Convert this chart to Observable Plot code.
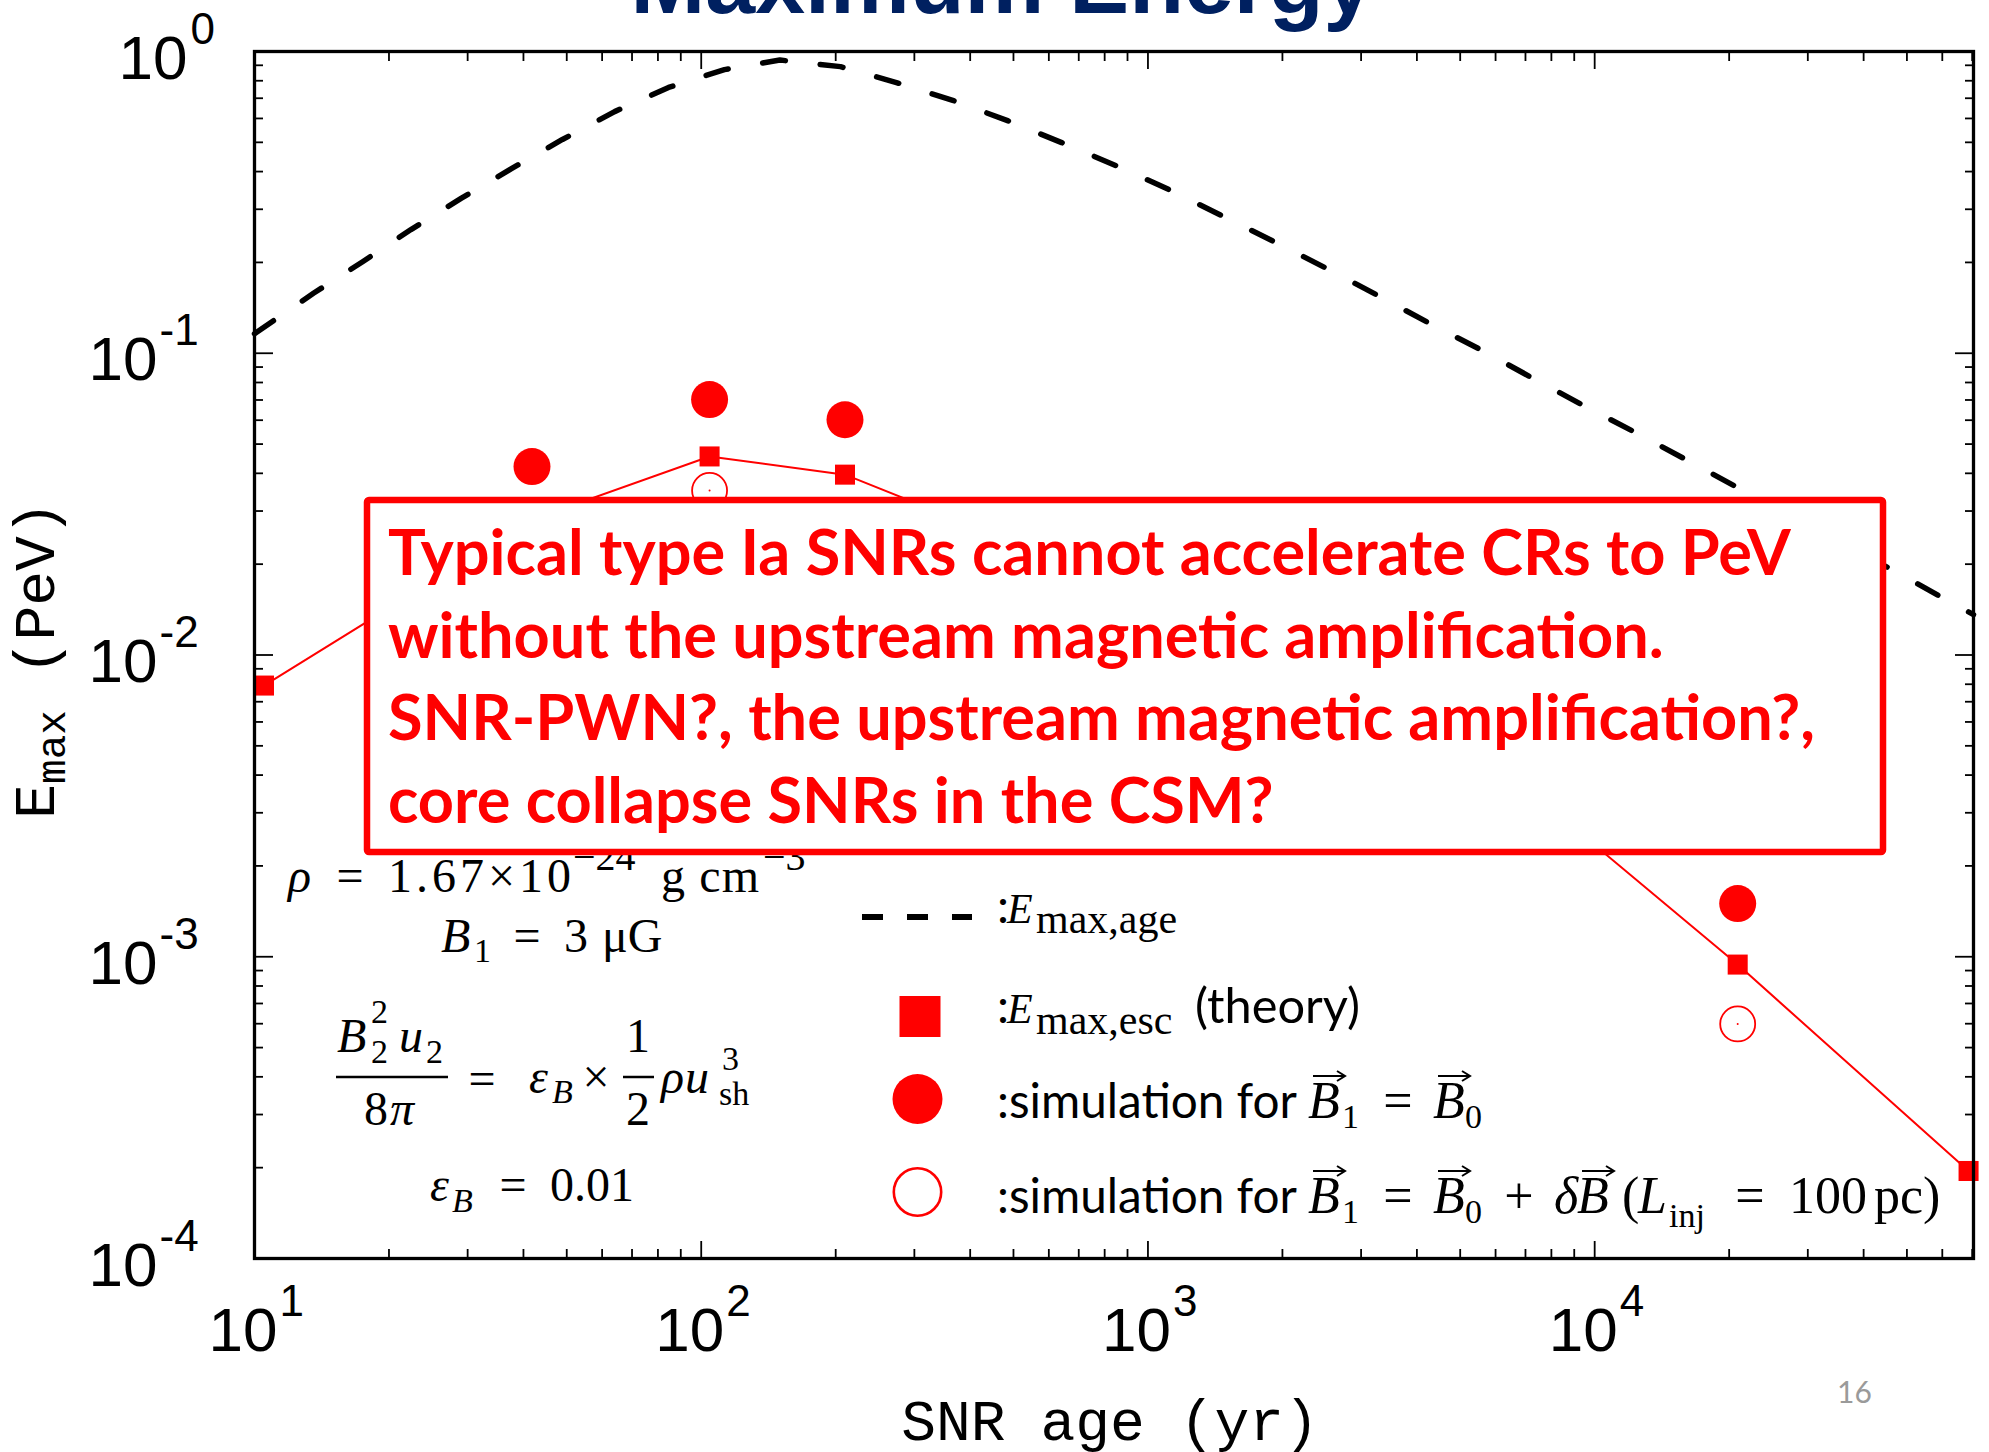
<!DOCTYPE html>
<html>
<head>
<meta charset="utf-8">
<script src="https://cdn.jsdelivr.net/npm/d3@7"></script>
<script src="https://cdn.jsdelivr.net/npm/@observablehq/plot@0.6"></script>
<style>
  html, body { margin: 0; padding: 0; background: #fff; overflow: hidden; }
</style>
</head>
<body>
<script>
// Maximum energy limited by SNR age (dashed curve): age [yr] and energy [PeV]
const ageYr  = [10, 13.55, 17.46, 22.4, 29.0, 37.6, 48.9, 64.0, 84.5, 112.7, 150, 205, 273.5, 365.6, 485, 641, 847, 1112, 1462, 1919, 2512, 3281, 4295, 5610, 7295, 9550, 12470, 16290, 21330, 47640, 61660, 70470];
const ageE   = [0.116, 0.158, 0.201, 0.257, 0.326, 0.409, 0.511, 0.632, 0.760, 0.871, 0.937, 0.891, 0.789, 0.689, 0.590, 0.499, 0.419, 0.349, 0.286, 0.234, 0.191, 0.155, 0.125, 0.102, 0.0824, 0.0665, 0.0542, 0.0438, 0.0353, 0.01875, 0.01514, 0.01361];

// Escape-limited maximum energy (theory, squares joined by a line)
const escYr  = [10.5, 41.8, 104.4, 209.8, 4355, 20900, 68700];
const escE   = [0.00792, 0.0281, 0.0455, 0.0396, 0.00656, 0.000942, 0.000195];

// Simulation, B1 = B0 (filled circles)
const simYr  = [41.8, 104.4, 209.8, 20900];
const simE   = [0.0421, 0.0702, 0.0602, 0.00150];

// Simulation, B1 = B0 + dB, L_inj = 100 pc (open circles)
const turbYr = [104.4, 20900];
const turbE  = [0.0351, 0.000599];

// Axis ticks
const xMajor = [10, 100, 1000, 10000];
const xExp   = ["1", "2", "3", "4"];
const xMinor = [20, 30, 40, 50, 60, 70, 80, 90, 200, 300, 400, 500, 600, 700, 800, 900,
                2000, 3000, 4000, 5000, 6000, 7000, 8000, 9000, 20000, 30000, 40000, 50000, 60000, 70000];
const yMajor = [1, 0.1, 0.01, 0.001, 0.0001];
const yExp   = ["0", "-1", "-2", "-3", "-4"];
const yMinor = [2e-4, 3e-4, 4e-4, 5e-4, 6e-4, 7e-4, 8e-4, 9e-4,
                2e-3, 3e-3, 4e-3, 5e-3, 6e-3, 7e-3, 8e-3, 9e-3,
                0.02, 0.03, 0.04, 0.05, 0.06, 0.07, 0.08, 0.09,
                0.2, 0.3, 0.4, 0.5, 0.6, 0.7, 0.8, 0.9];

const ageCurve = ageYr.map((t, i) => ({t, e: ageE[i]}));
const escPts   = escYr.map((t, i) => ({t, e: escE[i]}));
const simPts   = simYr.map((t, i) => ({t, e: simE[i]}));
const turbPts  = turbYr.map((t, i) => ({t, e: turbE[i]}));

const RED = "#ff0000";
const HELV = "'Liberation Sans', Arial, Helvetica, sans-serif";
const SERIF = "'Liberation Serif', 'Times New Roman', serif";
const SANS = "Lato, 'Open Sans', sans-serif";
const MONO = "'Liberation Mono', 'Courier New', monospace";

const tickStyle = {fill: "none", label: null, stroke: "black", strokeWidth: 1.8};

const yZero = yMajor.filter(d => d === 1);
const yNeg = yMajor.filter(d => d !== 1);
const expOf = d => yExp[yMajor.indexOf(d)];

const svg = Plot.plot({
  width: 1989,
  height: 1452,
  marginLeft: 254,
  marginRight: 16,
  marginTop: 51,
  marginBottom: 194,
  style: {background: "white"},
  x: {type: "log", domain: [10, 70470]},
  y: {type: "log", domain: [1e-4, 1]},
  marks: [
    // inward ticks on all four sides
    Plot.axisX(xMajor, {anchor: "bottom", tickSize: -17, ...tickStyle}),
    Plot.axisX(xMinor, {anchor: "bottom", tickSize: -9, ...tickStyle}),
    Plot.axisX(xMajor, {anchor: "top", tickSize: -17, ...tickStyle}),
    Plot.axisX(xMinor, {anchor: "top", tickSize: -9, ...tickStyle}),
    Plot.axisY(yMajor, {anchor: "left", tickSize: -19, ...tickStyle}),
    Plot.axisY(yMinor, {anchor: "left", tickSize: -9, ...tickStyle}),
    Plot.axisY(yMajor, {anchor: "right", tickSize: -19, ...tickStyle}),
    Plot.axisY(yMinor, {anchor: "right", tickSize: -9, ...tickStyle}),

    // x tick labels 10^n
    Plot.text(xMajor, {x: d => d, frameAnchor: "bottom", text: () => "10", textAnchor: "end",
      lineAnchor: "bottom", dx: 23, dy: 92, fontSize: 62, fontFamily: HELV, fill: "black"}),
    Plot.text(xMajor, {x: d => d, frameAnchor: "bottom", text: (d, i) => xExp[i], textAnchor: "start",
      lineAnchor: "bottom", dx: 25, dy: 57, fontSize: 44, fontFamily: HELV, fill: "black"}),

    // y tick labels 10^n
    Plot.text(yZero, {y: d => d, frameAnchor: "left", text: () => "10", textAnchor: "end",
      lineAnchor: "bottom", dx: -67, dy: 27, fontSize: 62, fontFamily: HELV, fill: "black"}),
    Plot.text(yZero, {y: d => d, frameAnchor: "left", text: expOf, textAnchor: "start",
      lineAnchor: "bottom", dx: -64, dy: -8, fontSize: 44, fontFamily: HELV, fill: "black"}),
    Plot.text(yNeg, {y: d => d, frameAnchor: "left", text: () => "10", textAnchor: "end",
      lineAnchor: "bottom", dx: -97, dy: 27, fontSize: 62, fontFamily: HELV, fill: "black"}),
    Plot.text(yNeg, {y: d => d, frameAnchor: "left", text: expOf, textAnchor: "start",
      lineAnchor: "bottom", dx: -95, dy: -8, fontSize: 44, fontFamily: HELV, fill: "black"}),

    // E_max,age
    Plot.line(ageCurve, {x: "t", y: "e", stroke: "black", strokeWidth: 5.5, strokeDasharray: "23,35"}),
    // E_max,esc theory
    Plot.line(escPts, {x: "t", y: "e", stroke: RED, strokeWidth: 2}),
    Plot.dot(escPts, {x: "t", y: "e", symbol: "square", r: 11.3, fill: RED, stroke: "none"}),
    // simulations
    Plot.dot(simPts, {x: "t", y: "e", r: 18.5, fill: RED, stroke: "none"}),
    Plot.dot(turbPts, {x: "t", y: "e", r: 17.5, fill: "none", stroke: RED, strokeWidth: 1.8}),
    Plot.dot(turbPts, {x: "t", y: "e", r: 1, fill: RED, stroke: "none"}),

    Plot.frame({stroke: "black", strokeWidth: 3.3})
  ]
});
document.body.append(svg);

const notes = d3.select(svg).append("g").attr("class", "notes");

// Places a text run; len stretches letter spacing, fit rescales the font to a width
function put(g, s, x, y, o = {}) {
  const t = g.append("text")
    .attr("x", x).attr("y", y)
    .attr("text-anchor", o.anchor || "start")
    .attr("font-family", o.font || SERIF)
    .attr("font-size", o.size || 48)
    .attr("font-style", o.italic ? "italic" : "normal")
    .attr("font-weight", o.bold ? "bold" : "normal")
    .attr("fill", o.fill || "black")
    .style("white-space", "pre")
    .text(s);
  if (o.fit) {
    const w = t.node().getComputedTextLength();
    t.attr("font-size", (o.size || 48) * o.fit / w);
  }
  if (o.len) t.attr("textLength", o.len).attr("lengthAdjust", "spacing");
  return t;
}
function vecArrow(g, x1, x2, y) {
  g.append("path")
    .attr("d", `M${x1},${y}L${x2},${y}M${x2 - 8},${y - 5}L${x2},${y}L${x2 - 8},${y + 5}`)
    .attr("fill", "none").attr("stroke", "black").attr("stroke-width", 2);
}
function bar(g, x1, x2, y) {
  g.append("line").attr("x1", x1).attr("x2", x2).attr("y1", y).attr("y2", y)
    .attr("stroke", "black").attr("stroke-width", 2.5);
}

// Title (runs off the top edge)
put(notes, "Maximum Energy", 1002, 13, {anchor: "middle", font: HELV, bold: true, size: 90, fit: 743, fill: "#002060"});

// Parameters
put(notes, "ρ", 288, 892, {italic: true});
put(notes, "=", 350, 892, {anchor: "middle"});
put(notes, "1.67×10", 388, 892, {len: 183});
put(notes, "−24", 573, 870, {size: 40});
put(notes, "g cm", 661, 892, {len: 98});
put(notes, "−3", 763, 870, {size: 40});

put(notes, "B", 441, 952, {italic: true});
put(notes, "1", 474, 962, {size: 34});
put(notes, "=", 527, 952, {anchor: "middle"});
put(notes, "3", 564, 952);
put(notes, "μG", 602, 952);

put(notes, "B", 337, 1052, {italic: true});
put(notes, "2", 371, 1023, {size: 34});
put(notes, "2", 371, 1063, {size: 34});
put(notes, "u", 399, 1052, {italic: true});
put(notes, "2", 426, 1063, {size: 34});
bar(notes, 336, 448, 1077);
put(notes, "8", 364, 1125);
put(notes, "π", 390, 1125, {italic: true});
put(notes, "=", 482, 1095, {anchor: "middle"});
put(notes, "ε", 529, 1093, {italic: true});
put(notes, "B", 552, 1103, {italic: true, size: 34});
put(notes, "×", 596, 1093, {anchor: "middle"});
put(notes, "1", 638, 1052, {anchor: "middle"});
bar(notes, 623, 654, 1077);
put(notes, "2", 638, 1125, {anchor: "middle"});
put(notes, "ρ", 661, 1093, {italic: true});
put(notes, "u", 685, 1093, {italic: true});
put(notes, "3", 722, 1070, {size: 34});
put(notes, "sh", 719, 1105, {size: 34});

put(notes, "ε", 430, 1201, {italic: true});
put(notes, "B", 452, 1212, {italic: true, size: 34});
put(notes, "=", 513, 1201, {anchor: "middle"});
put(notes, "0.01", 550, 1201);

// Legend
notes.append("line").attr("x1", 862).attr("x2", 972).attr("y1", 917).attr("y2", 917)
  .attr("stroke", "black").attr("stroke-width", 6).attr("stroke-dasharray", "21,24");
notes.append("rect").attr("x", 899.5).attr("y", 996).attr("width", 41).attr("height", 41).attr("fill", RED);
notes.append("circle").attr("cx", 917.5).attr("cy", 1099).attr("r", 25).attr("fill", RED);
notes.append("circle").attr("cx", 917.5).attr("cy", 1192).attr("r", 23.7)
  .attr("fill", "none").attr("stroke", RED).attr("stroke-width", 2.6);

put(notes, ":", 997, 923, {font: SANS, size: 48});
put(notes, "E", 1007, 923, {italic: true, size: 42});
put(notes, "max,age", 1036, 933, {size: 42});

put(notes, ":", 997, 1023, {font: SANS, size: 48});
put(notes, "E", 1007, 1023, {italic: true, size: 42});
put(notes, "max,esc", 1036, 1034, {size: 42});
put(notes, "(theory)", 1195, 1023, {font: SANS, size: 48, fit: 165});

for (const [base, withTurb] of [[1118, false], [1213, true]]) {
  const arr = base - 42;
  put(notes, ":simulation for", 997, base, {font: SANS, size: 48, fit: 300});
  put(notes, "B", 1308, base, {italic: true, size: 52});
  vecArrow(notes, 1313, 1345, arr);
  put(notes, "1", 1342, base + 10, {size: 34});
  put(notes, "=", 1398, base, {anchor: "middle", size: 52});
  put(notes, "B", 1433, base, {italic: true, size: 52});
  vecArrow(notes, 1438, 1470, arr);
  put(notes, "0", 1465, base + 10, {size: 34});
  if (withTurb) {
    put(notes, "+", 1519, base, {anchor: "middle", size: 52});
    put(notes, "δ", 1554, base, {italic: true, size: 52});
    put(notes, "B", 1577, base, {italic: true, size: 52});
    vecArrow(notes, 1582, 1614, arr);
    put(notes, "(", 1622, base, {size: 52});
    put(notes, "L", 1638, base, {italic: true, size: 52});
    put(notes, "inj", 1669, base + 14, {size: 34});
    put(notes, "=", 1750, base, {anchor: "middle", size: 52});
    put(notes, "100", 1789, base, {size: 52});
    put(notes, "pc)", 1874, base, {size: 52});
  }
}

// Conclusion box
notes.append("rect").attr("x", 367).attr("y", 500).attr("width", 1516).attr("height", 352)
  .attr("fill", "white").attr("stroke", RED).attr("stroke-width", 6.5).attr("rx", 2);
const boxLines = [
  "Typical type Ia SNRs cannot accelerate CRs to PeV",
  "without the upstream magnetic amplification.",
  "SNR-PWN?, the upstream magnetic amplification?,",
  "core collapse SNRs in the CSM?"
];
const first = put(notes, boxLines[0], 388, 575, {font: SANS, bold: true, size: 60, fit: 1403, fill: RED});
const boxSize = +first.attr("font-size");
boxLines.slice(1).forEach((s, i) => {
  put(notes, s, 388, 575 + (i + 1) * 82.7, {font: SANS, bold: true, size: boxSize, fill: RED});
});

// Axis titles
put(notes, "SNR age (yr)", 1110, 1440, {anchor: "middle", font: MONO, size: 58});
const yt = notes.append("text")
  .attr("transform", "translate(54,660) rotate(-90)")
  .attr("text-anchor", "middle").attr("font-family", MONO).attr("font-size", 58)
  .attr("fill", "black").style("white-space", "pre");
yt.append("tspan").text("E");
yt.append("tspan").attr("font-size", 41).attr("dy", 11).text("max");
yt.append("tspan").attr("dy", -11).text(" (PeV)");

// Slide number
put(notes, "16", 1837, 1403, {font: SANS, size: 30, fill: "#9a9a9a"});
</script>
</body>
</html>
